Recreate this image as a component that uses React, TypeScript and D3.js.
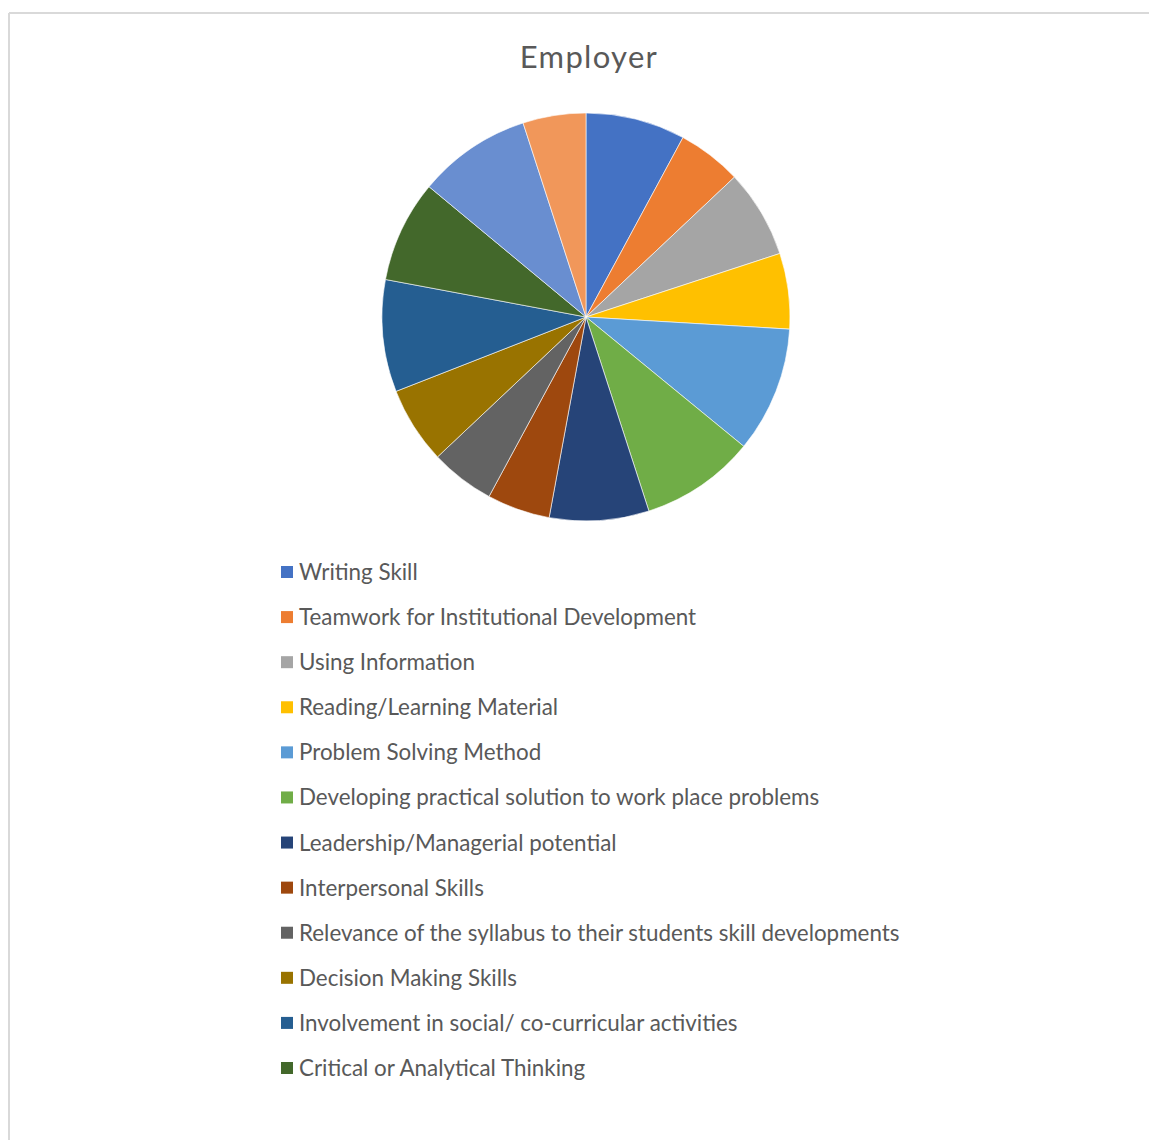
import React from "react";
import * as d3 from "d3";

const title = "Employer";
const categories = [
  "Writing Skill",
  "Teamwork for Institutional Development",
  "Using Information",
  "Reading/Learning Material",
  "Problem Solving Method",
  "Developing practical solution to work place problems",
  "Leadership/Managerial potential",
  "Interpersonal Skills",
  "Relevance of the syllabus to their students skill developments",
  "Decision Making Skills",
  "Involvement in social/ co-curricular activities",
  "Critical or Analytical Thinking",
  "Category 13",
  "Category 14",
];
const values = [7.9, 5.1, 7.0, 6.0, 10.0, 9.1, 7.9, 5.0, 5.1, 6.1, 8.9, 8.1, 9.0, 5.0];
const colors = [
  "#4472C4", "#ED7D31", "#A5A5A5", "#FFC000", "#5B9BD5", "#70AD47",
  "#264478", "#9E480E", "#636363", "#997300", "#255E91", "#43682B",
  "#698ED0", "#F1975A",
];
const legendCount = 12;

const W = 1149;
const H = 1140;
const cx = 586;
const cy = 317;
const R = 204;
const FONT = "Lato, 'Open Sans', sans-serif";

export default function App() {
  const data = categories.map((c, i) => ({ name: c, value: values[i], color: colors[i] }));
  const pie = d3.pie<any>().sort(null).value((d: any) => d.value);
  const arcs = pie(data);
  const arc = d3.arc<any>().innerRadius(0).outerRadius(R);
  const legendY = d3.scaleLinear().domain([0, legendCount - 1]).range([572, 1068]);

  return (
    <svg width={W} height={H} style={{ position: "absolute", left: 0, top: 0 }}>
      <rect x={0} y={0} width={W} height={H} fill="#ffffff" />
      <line x1={9} y1={13} x2={W} y2={13} stroke="#d9d9d9" strokeWidth={2} />
      <line x1={9} y1={13} x2={9} y2={H} stroke="#d9d9d9" strokeWidth={2} />
      <text x={589} y={67.5} textAnchor="middle" fontFamily={FONT} fontSize={31} letterSpacing={1.3} fill="#595959">
        {title}
      </text>
      <g transform={`translate(${cx},${cy})`}>
        {arcs.map((a, i) => (
          <path key={i} d={arc(a) as string} fill={a.data.color} stroke="#ffffff" strokeWidth={0.6} />
        ))}
      </g>
      <g>
        {data.slice(0, legendCount).map((d, i) => {
          const y = legendY(i);
          return (
            <g key={i}>
              <rect x={281} y={y - 6} width={12} height={12} fill={d.color} />
              <text x={299} y={y + 8} fontFamily={FONT} fontSize={22.4} fill="#595959">
                {d.name}
              </text>
            </g>
          );
        })}
      </g>
    </svg>
  );
}
